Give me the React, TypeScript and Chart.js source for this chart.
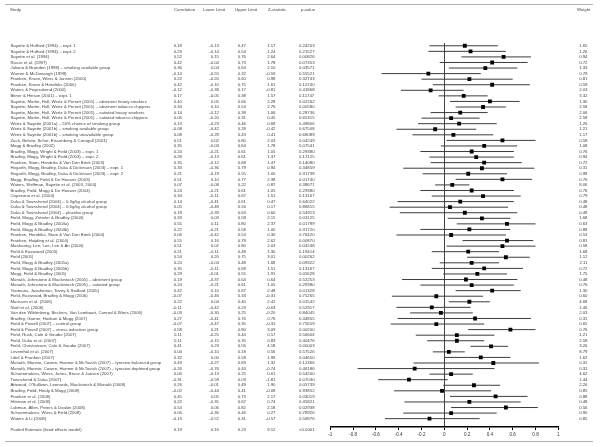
import React, { useEffect, useRef } from "react";
import { Chart, registerables } from "chart.js";

Chart.register(...registerables);

const studies = [
  "Sayette & Hufford (1994) – expt. 1",
  "Sayette & Hufford (1994) – expt. 2",
  "Sayette et al. (1994)",
  "Rosse et al. (1997)",
  "Juliano & Brandon (1998) – smoking available group",
  "Warren & McDonough (1999)",
  "Franken, Kroon, Wiers & Jansen (2000)",
  "Franken, Kroon & Hendriks (2000)",
  "Waters & Feyerabend (2000)",
  "Bitner & Hinson (2001) – expt. 1",
  "Sayette, Martin, Hull, Wertz & Perrott (2001) – abstinent heavy smokers",
  "Sayette, Martin, Hull, Wertz & Perrott (2001) – abstinent tobacco chippers",
  "Sayette, Martin, Hull, Wertz & Perrott (2001) – satiated heavy smokers",
  "Sayette, Martin, Hull, Wertz & Perrott (2001) – satiated tobacco chippers",
  "Wertz & Sayette (2001a) – 50% chance of smoking group",
  "Wertz & Sayette (2001b) – smoking available group",
  "Wertz & Sayette (2001b) – smoking unavailable group",
  "Zack, Belsito, Scher, Eissenberg & Corrigall (2001)",
  "Mogg & Bradley (2002)",
  "Bradley, Mogg, Wright & Field (2003) – expt. 1",
  "Bradley, Mogg, Wright & Field (2003) – expt. 2",
  "Franken, Stam, Hendriks & Van Den Brink (2003)",
  "Hogarth, Mogg, Bradley, Duka & Dickinson (2003) – expt. 1",
  "Hogarth, Mogg, Bradley, Duka & Dickinson (2003) – expt. 2",
  "Mogg, Bradley, Field & De Houwer (2003)",
  "Waters, Shiffman, Sayette et al. (2003, 2004)",
  "Bradley, Field, Mogg & De Houwer (2004)",
  "Copersino et al. (2004)",
  "Duka & Townshend (2004) – 0.3g/kg alcohol group",
  "Duka & Townshend (2004) – 0.6g/kg alcohol group",
  "Duka & Townshend (2004) – placebo group",
  "Field, Mogg, Zetteler & Bradley (2004)",
  "Field, Mogg & Bradley (2004a)",
  "Field, Mogg & Bradley (2004b)",
  "Franken, Hendriks, Stam & Van Den Brink (2004)",
  "Franken, Huijding et al. (2004)",
  "Mankoong, Lee, Lee, Lee & An (2004)",
  "Field & Eastwood (2005)",
  "Field (2005)",
  "Field, Mogg & Bradley (2005a)",
  "Field, Mogg & Bradley (2005b)",
  "Mogg, Field & Bradley (2005)",
  "Munafò, Johnstone & Mackintosh (2005) – abstinent group",
  "Munafò, Johnstone & Mackintosh (2005) – satiated group",
  "Yeomans, Javaherian, Tovey & Stafford (2005)",
  "Field, Eastwood, Bradley & Mogg (2006)",
  "Marissen et al. (2006)",
  "Noël et al. (2006)",
  "Van den Wildenberg, Beckers, Van Lambaart, Conrod & Wiers (2006)",
  "Bradley, Garner, Hudson & Mogg (2007)",
  "Field & Powell (2007) – control group",
  "Field & Powell (2007) – stress induction group",
  "Field, Rush, Cole & Goudie (2007)",
  "Field, Duka et al. (2007)",
  "Field, Christiansen, Cole & Goudie (2007)",
  "Leventhal et al. (2007)",
  "Littel & Franken (2007)",
  "Munafò, Mannie, Cowen, Harmer & McTavish (2007) – tyrosine balanced group",
  "Munafò, Mannie, Cowen, Harmer & McTavish (2007) – tyrosine depleted group",
  "Schoenmakers, Wiers, Jones, Bruce & Jansen (2007)",
  "Townshend & Duka (2007)",
  "Attwood, O'Sullivan, Leonards, Mackintosh & Munafò (2008)",
  "Bradley, Field, Healy & Mogg (2008)",
  "Franken et al. (2008)",
  "Hitsman et al. (2008)",
  "Lubman, Allen, Peters & Deakin (2008)",
  "Schoenmakers, Wiers & Field (2008)",
  "Waters & Li (2008)",
];

const correlation = [
  0.18, 0.23, 0.52, 0.42, 0.36, -0.14, 0.22, 0.42, -0.12, 0.17,
  0.40, 0.34, 0.14, 0.06, 0.13, -0.08, 0.08, 0.51, 0.35, 0.24,
  0.28, 0.35, 0.33, 0.21, 0.51, 0.07, 0.24, 0.34, 0.14, 0.05,
  0.18, 0.33, 0.55, 0.22, 0.06, 0.55, 0.51, 0.21, 0.54, 0.24,
  0.35, 0.29, 0.19, 0.24, 0.42, -0.07, 0.22, -0.11, -0.03, 0.27,
  -0.07, 0.58, 0.11, 0.11, 0.41, 0.04, 0.32, 0.43, -0.26, 0.06,
  -0.31, 0.26, -0.02, 0.45, 0.22, 0.54, 0.06, -0.13,
];

const lowerLimit = [
  -0.13, -0.14, 0.15, -0.04, 0.04, -0.55, -0.20, -0.10, -0.38, -0.05,
  0.05, 0.10, -0.12, -0.20, -0.23, -0.42, -0.28, 0.02, -0.03, -0.21,
  -0.13, -0.12, -0.36, -0.19, 0.10, -0.08, -0.21, -0.11, -0.41, -0.48,
  -0.39, 0.03, 0.11, -0.21, -0.42, 0.16, 0.02, -0.11, 0.20, -0.04,
  -0.11, -0.01, -0.37, -0.21, 0.10, -0.46, 0.04, -0.42, -0.30, -0.41,
  -0.47, 0.21, -0.25, -0.15, 0.23, -0.10, 0.00, -0.27, -0.76, -0.13,
  -0.58, -0.01, -0.44, 0.05, -0.35, 0.06, -0.36, -0.52,
];

const upperLimit = [
  0.47, 0.54, 0.76, 0.73, 0.64, 0.32, 0.60, 0.75, 0.17, 0.38,
  0.66, 0.54, 0.38, 0.31, 0.46, 0.28, 0.43, 0.80, 0.64, 0.61,
  0.61, 0.68, 0.79, 0.55, 0.77, 0.22, 0.61, 0.67, 0.61, 0.56,
  0.64, 0.58, 0.80, 0.58, 0.54, 0.78, 0.80, 0.48, 0.75, 0.48,
  0.69, 0.55, 0.64, 0.61, 0.67, 0.34, 0.40, 0.23, 0.25, 0.76,
  0.35, 0.80, 0.44, 0.35, 0.56, 0.18, 0.58, 0.83, 0.44, 0.25,
  0.03, 0.49, 0.41, 0.73, 0.67, 0.82, 0.46, 0.31,
];

const zStatistic = [
  1.17, 1.24, 2.64, 1.78, 2.10, -0.59, 0.98, 1.61, -0.81, 1.57,
  2.28, 2.76, 1.06, 0.45, 0.68, -0.42, 0.41, 2.03, 1.78, 1.05,
  1.37, 1.47, 0.94, 1.00, 2.38, 0.87, 1.05, 1.51, 0.47, 0.17,
  0.60, 2.15, 2.37, 1.00, 0.30, 2.62, 2.03, 1.30, 3.01, 1.68,
  1.51, 1.91, 0.64, 1.05, 2.48, -0.31, 2.42, -0.63, -0.20, 0.76,
  -0.31, 3.09, 0.57, 0.83, 4.18, 0.56, 1.99, 1.32, -0.74, 0.61,
  -1.81, 1.90, -0.08, 2.17, 0.74, 2.18, 0.27, -0.57,
];

const pValue = [
  0.24203, 0.21527, 0.00826, 0.07353, 0.03571, 0.55521, 0.32743, 0.1074, 0.41868, 0.11747,
  0.02262, 0.0058, 0.28736, 0.65315, 0.49806, 0.67508, 0.68089, 0.04249, 0.07541, 0.2938,
  0.17125, 0.1408, 0.34859, 0.31738, 0.0174, 0.38671, 0.2938, 0.13167, 0.64022, 0.86815,
  0.54913, 0.03125, 0.01799, 0.3172, 0.7642, 0.0087, 0.04248, 0.19414, 0.00262, 0.09322,
  0.13167, 0.05628, 0.52253, 0.2938, 0.01328, 0.75265, 0.01542, 0.52917, 0.84045, 0.44855,
  0.75659, 0.002, 0.56604, 0.40476, 0.00003, 0.57526, 0.0465, 0.12366, 0.46186, 0.542,
  0.0703, 0.05739, 0.93852, 0.03019, 0.45821, 0.02938, 0.78926, 0.56876,
];

const weight = [
  1.65, 1.26, 0.94, 0.72, 1.33, 0.79, 0.81, 0.59, 2.03, 3.32,
  1.30, 2.58, 2.06, 2.58, 1.26, 1.21, 1.17, 0.58, 1.08, 0.76,
  0.94, 0.72, 0.31, 0.98, 0.76, 8.06, 0.76, 0.79, 0.48, 0.48,
  0.48, 1.68, 0.63, 0.88, 0.53, 0.81, 0.58, 1.68, 1.12, 2.11,
  0.72, 1.75, 0.48, 0.76, 1.30, 0.60, 4.68, 1.46, 2.03, 0.31,
  0.65, 0.76, 1.21, 2.58, 3.26, 8.79, 1.62, 0.31, 0.31, 4.62,
  1.44, 2.26, 0.85, 0.88, 0.48, 0.56, 0.90, 0.85,
];

const pooledLabel = "Pooled Estimate (fixed effects model)";
const pooledValues = ["0.19", "0.16", "0.23", "9.12", "<0.0001"];

const headers = ["Study", "Correlation", "Lower Limit", "Upper Limit", "Z-statistic", "p-value", "Weight"];
const xTicks = [-1, -0.8, -0.6, -0.4, -0.2, 0, 0.2, 0.4, 0.6, 0.8, 1];

const FONT = '"Liberation Sans", Arial, sans-serif';

export default function App() {
  const ref = useRef<HTMLCanvasElement>(null);

  useEffect(() => {
    document.body.style.margin = "0";
    const canvas = ref.current;
    if (!canvas) return;

    const ciSets: any[] = studies.map((_, i) => ({
      type: "scatter",
      data: [
        { x: lowerLimit[i], y: i },
        { x: upperLimit[i], y: i },
      ],
      showLine: true,
      borderColor: "#3c3c3c",
      borderWidth: 1,
      pointRadius: 0,
      order: 2,
    }));

    const pointSet: any = {
      type: "scatter",
      data: correlation.map((c, i) => ({ x: c, y: i })),
      pointStyle: "rect",
      pointRadius: 2.7,
      backgroundColor: "#000000",
      borderColor: "#000000",
      borderWidth: 0,
      order: 1,
    };

    const tablePlugin = {
      id: "forestTable",
      afterDraw(chart: any) {
        const ctx = chart.ctx as CanvasRenderingContext2D;
        const ys = chart.scales.y;
        ctx.save();
        ctx.strokeStyle = "#b0b0b0";
        ctx.lineWidth = 1;
        ctx.beginPath();
        ctx.moveTo(5, 4.5);
        ctx.lineTo(593, 4.5);
        ctx.moveTo(5, 441.5);
        ctx.lineTo(593, 441.5);
        ctx.stroke();

        ctx.font = `4.3px ${FONT}`;
        ctx.fillStyle = "#444";
        ctx.textBaseline = "middle";
        const hx = [10, 174, 203, 235, 268, 301, 577];
        ctx.textAlign = "left";
        headers.forEach((h, k) => ctx.fillText(h, hx[k], 10));

        const drawRow = (y: number, name: string, vals: string[], w: string | null) => {
          ctx.textAlign = "left";
          ctx.fillText(name, 10.5, y);
          ctx.textAlign = "right";
          ctx.fillText(vals[0], 182, y);
          ctx.fillText(vals[1], 219, y);
          ctx.fillText(vals[2], 246, y);
          ctx.fillText(vals[3], 275.5, y);
          ctx.textAlign = "left";
          ctx.fillText(vals[4], 299, y);
          if (w !== null) {
            ctx.textAlign = "right";
            ctx.fillText(w, 587.5, y);
          }
        };

        studies.forEach((name, i) => {
          const y = ys.getPixelForValue(i);
          drawRow(
            y,
            name,
            [
              correlation[i].toFixed(2),
              lowerLimit[i].toFixed(2),
              upperLimit[i].toFixed(2),
              zStatistic[i].toFixed(2),
              pValue[i].toFixed(5),
            ],
            weight[i].toFixed(2)
          );
        });
        drawRow(ys.getPixelForValue(studies.length + 1), pooledLabel, pooledValues, null);
        ctx.restore();
      },
    };

    const chart = new Chart(canvas, {
      type: "scatter",
      data: { datasets: [...ciSets, pointSet] },
      options: {
        responsive: false,
        animation: false,
        events: [],
        layout: { padding: { left: 330.3, right: 41.7, top: 43, bottom: 0 } },
        plugins: {
          legend: { display: false },
          tooltip: { enabled: false },
        },
        scales: {
          x: {
            type: "linear",
            min: -1,
            max: 1,
            position: "bottom",
            afterFit: (s: any) => {
              s.height = 20;
            },
            afterBuildTicks: (s: any) => {
              s.ticks = xTicks.map((v) => ({ value: v }));
            },
            ticks: {
              font: { family: FONT, size: 4.6 },
              color: "#333",
              padding: 1.5,
              maxRotation: 0,
              autoSkip: false,
              callback: (v: any) => String(Number(Number(v).toFixed(1))),
            },
            grid: {
              drawOnChartArea: true,
              color: (c: any) =>
                c.tick && Math.abs(c.tick.value) < 1e-9 ? "#444444" : "rgba(0,0,0,0)",
              tickColor: "#000",
              tickLength: 3,
              lineWidth: 1,
            },
            border: { display: true, color: "#000", width: 1.5 },
          },
          y: {
            type: "linear",
            min: -0.5,
            max: 68.5,
            reverse: true,
            display: false,
          },
        },
      } as any,
      plugins: [tablePlugin],
    });

    return () => chart.destroy();
  }, []);

  return (
    <div style={{ position: "fixed", left: 0, top: 0, width: 600, height: 447, background: "#fff" }}>
      <canvas ref={ref} width={600} height={447} />
    </div>
  );
}
